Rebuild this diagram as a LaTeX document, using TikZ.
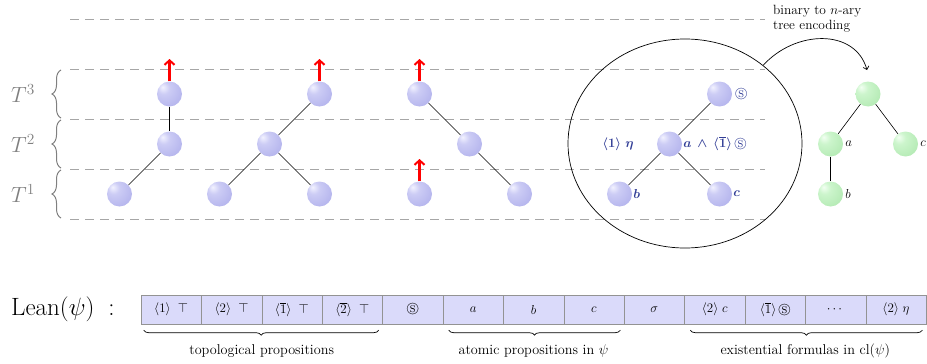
\RequirePackage{fix-cm}
\documentclass[tikz,border=0pt]{standalone}
\usepackage{amsmath,amssymb}
\usepackage{graphicx}
\usepackage{fontspec}
\usetikzlibrary{shapes.geometric,decorations.pathreplacing,arrows.meta,calc}
\definecolor{lblue}{RGB}{50,62,150}
\definecolor{cellfill}{RGB}{218,218,250}
\pgfdeclareradialshading{softblue}{\pgfpoint{-14bp}{14bp}}{%
  rgb(0bp)=(0.95,0.95,1);rgb(12bp)=(0.80,0.80,0.96);rgb(35bp)=(0.71,0.71,0.93);rgb(55bp)=(0.67,0.67,0.90);rgb(75bp)=(0.64,0.64,0.87)}
\pgfdeclareradialshading{softgreen}{\pgfpoint{-14bp}{14bp}}{%
  rgb(0bp)=(0.95,1,0.95);rgb(12bp)=(0.80,0.96,0.80);rgb(35bp)=(0.71,0.92,0.71);rgb(55bp)=(0.66,0.88,0.66);rgb(75bp)=(0.62,0.85,0.62)}
\begin{document}
\begin{tikzpicture}[x=1pt,y=-1pt,
  bnode/.style={circle,inner sep=0pt,minimum size=25pt,shading=softblue},
  gnode/.style={circle,inner sep=0pt,minimum size=25pt,shading=softgreen},
  edge/.style={draw=black,line width=0.6pt},
  level/.style={draw=gray!70,line width=1pt,dash pattern=on 9pt off 6pt},
  uparrow/.style={draw=red,line width=2.2pt,-{Straight Barb[length=4.5pt,width=10pt,line width=2pt]}},
  lbl/.style={text=lblue,font=\fontsize{13}{15}\selectfont\boldmath,inner sep=1pt},
  glbl/.style={font=\fontsize{13}{15}\selectfont,inner sep=1pt},
  cell/.style={draw=gray!85,fill=cellfill,minimum width=60.4pt,minimum height=29pt,inner sep=0pt,font=\fontsize{13}{15}\selectfont},
  lbrace/.style={draw=gray,line width=1pt,decorate,decoration={brace,amplitude=9pt}},
  bbrace/.style={draw=black,line width=0.7pt,decorate,decoration={brace,mirror,amplitude=5pt}},
  small/.style={font=\fontsize{14.2}{15}\selectfont}
]
\useasboundingbox (0,0) rectangle (927,364);

% level lines
\foreach \y in {19,69,119,169,219} \draw[level] (70,\y) -- (765,\y);

% left braces and labels
\foreach \a/\b/\k in {69/119/3,119/169/2,169/219/1}{
  \draw[lbrace] (61,\b-1) -- (61,\a+1);
  \node[text=gray,font=\fontsize{22}{24}\selectfont] (T\k) at (23,{(\a+\b)/2}) {$T^{\k}$};
}

% tree 1
\node[bnode] (a1) at (169.5,94) {};
\node[bnode] (a2) at (169.5,144) {};
\node[bnode] (a3) at (119.5,194) {};
\draw[edge] (a1) -- (a2);
\draw[edge] (a2) -- (a3);
\coordinate (ra) at (169.5,59);
\draw[uparrow] (a1.north) -- (ra);

% tree 2
\node[bnode] (b1) at (319.5,94) {};
\node[bnode] (b2) at (269.5,144) {};
\node[bnode] (b3) at (219.5,194) {};
\node[bnode] (b4) at (319.5,194) {};
\draw[edge] (b1) -- (b2);
\draw[edge] (b2) -- (b3);
\draw[edge] (b2) -- (b4);
\coordinate (rb) at (319.5,59);
\draw[uparrow] (b1.north) -- (rb);

% tree 3
\node[bnode] (d1) at (419.5,94) {};
\node[bnode] (d2) at (469.5,144) {};
\node[bnode] (d3) at (519.5,194) {};
\node[bnode] (d4) at (419.5,194) {};
\draw[edge] (d1) -- (d2);
\draw[edge] (d2) -- (d3);
\coordinate (rd1) at (419.5,59);
\coordinate (rd4) at (419.5,159);
\draw[uparrow] (d1.north) -- (rd1);
\draw[uparrow] (d4.north) -- (rd4);

% circled tree
\node[draw,ellipse,line width=0.7pt,minimum width=234pt,minimum height=209pt,inner sep=0pt] (E) at (685,143.5) {};
\node[bnode] (e1) at (719.5,94) {};
\node[bnode] (e2) at (669.5,144) {};
\node[bnode] (e3) at (619.5,194) {};
\node[bnode] (e4) at (719.5,194) {};
\draw[edge] (e1) -- (e2);
\draw[edge] (e2) -- (e3);
\draw[edge] (e2) -- (e4);
\node[lbl,anchor=west] (le1) at ([xshift=2pt]e1.east) {$\circledS$};
\node[lbl,anchor=west] (le2) at (e2.east) {$a\,\wedge\,\langle\overline{1}\rangle\,\circledS$};
\node[lbl] (leta) at (618,144) {$\langle 1\rangle\;\eta$};
\node[lbl,anchor=west] (le3) at (e3.east) {$b$};
\node[lbl,anchor=west] (le4) at (e4.east) {$c$};

% green tree
\node[gnode] (g1) at (868,94) {};
\node[gnode] (g2) at (830.5,144) {};
\node[gnode] (g3) at (905.5,144) {};
\node[gnode] (g4) at (830.5,194) {};
\draw[edge] (g1) -- (g2);
\draw[edge] (g1) -- (g3);
\draw[edge] (g2) -- (g4);
\node[glbl,anchor=west] (lg2) at ([xshift=1pt]g2.east) {$a$};
\node[glbl,anchor=west] (lg3) at ([xshift=1pt]g3.east) {$c$};
\node[glbl,anchor=west] (lg4) at ([xshift=1pt]g4.east) {$b$};

% encoding arrow
\node[anchor=north west,inner sep=0pt] (enc) at (773,4) {\resizebox{88pt}{!}{\fontsize{13}{14.5}\selectfont\begin{tabular}{@{}l@{}}binary to $n$-ary\\tree encoding\end{tabular}}};
\coordinate (arrEnd) at (867,70);
\draw[line width=0.7pt,-{Straight Barb[length=3pt,width=6pt]}] (E.45) .. controls (795,30) and (855,28) .. (arrEnd);

% Lean row
\node[anchor=west,inner sep=0pt,font=\fontsize{25}{27}\selectfont] (lean) at (11,309.5) {Lean$(\psi)$\hspace{0.55em}:};
\foreach [count=\i] \t in {{$\langle 1\rangle\;\;\top$},{$\langle 2\rangle\;\;\top$},{$\langle\overline{1}\rangle\;\;\top$},{$\langle\overline{2}\rangle\;\;\top$},{$\circledS$},{$a$},{$b$},{$c$},{$\sigma$},{$\langle 2\rangle\;c$},{$\langle\overline{1}\rangle\,\circledS$},{$\cdots$},{$\langle 2\rangle\;\eta$}}
  \node[cell,anchor=west] (c\i) at ({140.7+(\i-1)*60.4},309.5) {\t};

\draw[bbrace] ([xshift=3pt,yshift=-6pt]c1.south west) -- ([xshift=-4pt,yshift=-6pt]c4.south east);
\draw[bbrace] ([xshift=6pt,yshift=-6pt]c6.south west) -- ([xshift=-4pt,yshift=-6pt]c8.south east);
\draw[bbrace] ([xshift=6pt,yshift=-6pt]c10.south west) -- ([xshift=-4pt,yshift=-6pt]c13.south east);
\node[small] (t1) at ($(c1.south west)!0.5!(c4.south east)+(0,27)$) {topological propositions};
\node[small] (t2) at ($(c6.south west)!0.5!(c8.south east)+(0,27)$) {atomic propositions in $\psi$};
\node[small] (t3) at ($(c10.south west)!0.5!(c13.south east)+(0,27)$) {existential formulas in $\mathrm{cl}(\psi)$};
\end{tikzpicture}
\end{document}
